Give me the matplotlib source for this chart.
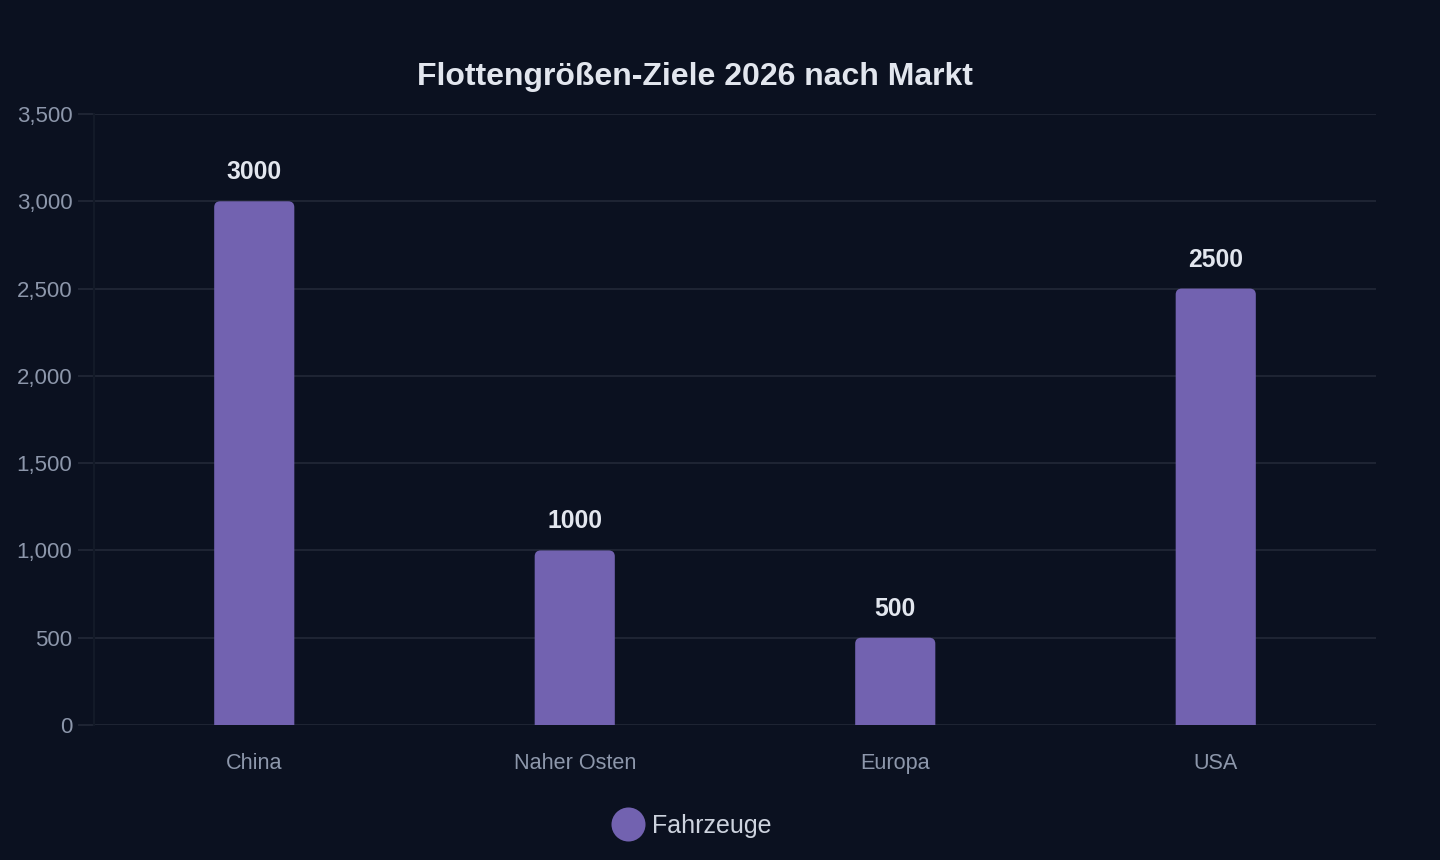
import matplotlib
matplotlib.use("Agg")
import matplotlib.pyplot as plt
from matplotlib.patches import FancyBboxPatch
from matplotlib.lines import Line2D
from matplotlib.ticker import FuncFormatter

markets = ["China", "Naher Osten", "Europa", "USA"]
fleet_targets = [3000, 1000, 500, 2500]
series_name = "Fahrzeuge"
title = "Flottengrößen-Ziele 2026 nach Markt"

BG = "#0b1120"
GRID = "#1e2433"
BAR = "#7262b0"
TICK = "#8d97ab"
TEXT = "#e2e6ee"

plt.rcParams["font.family"] = ["Liberation Sans", "DejaVu Sans"]

fig = plt.figure(figsize=(14.4, 8.6), dpi=100, facecolor=BG)
ax = fig.add_axes([94 / 1440, 1 - 725 / 860, (1376 - 94) / 1440, (725 - 114) / 860])
ax.set_facecolor(BG)

bar_w = 0.25
for i, v in enumerate(fleet_targets):
    # bar with slightly rounded top corners (bottom hidden below 0)
    patch = FancyBboxPatch((i - bar_w / 2, -60), bar_w, v + 60,
                           boxstyle="round,pad=0,rounding_size=0.019",
                           mutation_aspect=1800,
                           facecolor=BAR, edgecolor="none", zorder=3)
    ax.add_patch(patch)
    ax.annotate(str(v), (i, v), xytext=(0, 29), textcoords="offset pixels",
                ha="center", va="center", color=TEXT, fontsize=17.8,
                fontweight="bold", zorder=4)

ax.set_xlim(-0.5, len(markets) - 0.5)
ax.set_ylim(0, 3500)
ax.set_yticks(range(0, 3501, 500))
ax.yaxis.set_major_formatter(FuncFormatter(lambda y, _: f"{int(y):,}"))
ax.set_xticks(range(len(markets)))
ax.set_xticklabels(markets)

ax.grid(axis="y", color=GRID, linewidth=1.5, zorder=0)
ax.tick_params(axis="y", length=11.5, width=1.5, color=GRID, labelcolor=TICK,
               labelsize=16, pad=4)
ax.tick_params(axis="x", length=0, labelcolor=TICK, labelsize=15.6, pad=20)
for side in ["top", "right", "bottom"]:
    ax.spines[side].set_visible(False)
ax.spines["left"].set_color("#131a28")
ax.spines["left"].set_linewidth(1.5)

fig.text(695 / 1440, 1 - 77 / 860, title, ha="center", va="center",
         color=TEXT, fontsize=23, fontweight="bold")

handle = Line2D([], [], marker="o", linestyle="none", markersize=24.5,
                markerfacecolor=BAR, markeredgecolor="none")
fig.legend([handle], [series_name], loc="center", bbox_to_anchor=(691 / 1440, 1 - 826 / 860),
           frameon=False, labelcolor="#cdd3de", fontsize=18, handletextpad=0.3,
           handlelength=1.36)

fig.savefig("out.png", dpi=100, facecolor=BG)
